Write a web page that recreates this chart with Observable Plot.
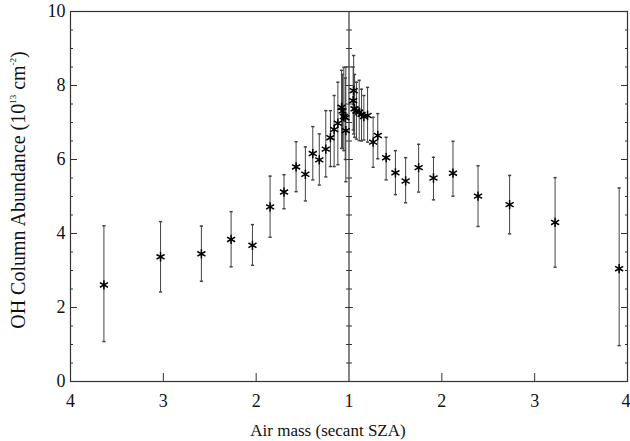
<!DOCTYPE html>
<html>
<head>
<meta charset="utf-8">
<script src="https://cdn.jsdelivr.net/npm/d3@7"></script>
<script src="https://cdn.jsdelivr.net/npm/@observablehq/plot@0.6"></script>
<style>
  html, body { margin: 0; padding: 0; background: #fff; }
  #chart { width: 630px; height: 441px; }
</style>
</head>
<body>
<div id="chart"></div>
<script>
// Morning (left half) — air mass, OH value, error-bar top, error-bar bottom
const amAM  = [3.64, 3.03, 2.59, 2.27, 2.04, 1.85, 1.70, 1.57, 1.47, 1.39, 1.32, 1.25, 1.20, 1.16, 1.12, 1.08, 1.07, 1.056, 1.04, 1.034];
const ohAM  = [2.61, 3.37, 3.45, 3.84, 3.68, 4.72, 5.12, 5.80, 5.60, 6.16, 5.99, 6.28, 6.59, 6.81, 6.98, 7.41, 7.31, 7.16, 7.13, 6.78];
const hiAM  = [4.21, 4.32, 4.20, 4.59, 4.24, 5.55, 5.59, 6.48, 6.34, 6.89, 6.69, 7.32, 7.32, 7.73, 8.09, 8.41, 8.30, 8.49, 8.20, 8.50];
const loAM  = [1.08, 2.42, 2.71, 3.10, 3.14, 3.90, 4.67, 5.13, 4.88, 5.45, 5.31, 5.53, 5.81, 5.81, 5.86, 6.30, 6.30, 6.24, 6.00, 5.40];
// Afternoon (right half)
const amPM  = [1.05, 1.045, 1.06, 1.08, 1.11, 1.135, 1.16, 1.20, 1.26, 1.31, 1.40, 1.50, 1.61, 1.75, 1.91, 2.12, 2.39, 2.73, 3.22, 3.91];
const ohPM  = [7.86, 7.59, 7.37, 7.31, 7.28, 7.22, 7.16, 7.19, 6.47, 6.65, 6.05, 5.64, 5.42, 5.78, 5.50, 5.63, 5.01, 4.78, 4.30, 3.05];
const hiPM  = [8.81, 8.50, 8.30, 8.09, 8.14, 7.90, 7.73, 7.95, 7.14, 7.24, 6.60, 6.24, 6.05, 6.41, 6.06, 6.49, 5.83, 5.57, 5.51, 5.23];
const loPM  = [6.69, 6.80, 6.60, 6.55, 6.51, 6.50, 6.53, 6.47, 5.79, 6.02, 5.45, 5.05, 4.83, 5.12, 4.91, 5.01, 4.19, 3.99, 3.09, 0.97];

const xTicks = [-3, -2, -1, 0, 1, 2, 3];          // signed (air mass - 1)
const xTickLabels = ["4", "3", "2", "1", "2", "3", "4"];
const yMajor = [0, 2, 4, 6, 8, 10];
const yMinor = d3.range(0, 10.01, 0.5);

const rows = [
  ...amAM.map((a, i) => ({x: -(a - 1), y: ohAM[i], hi: hiAM[i], lo: loAM[i]})),
  ...amPM.map((a, i) => ({x: (a - 1), y: ohPM[i], hi: hiPM[i], lo: loPM[i]}))
];

// horizontal dash symbol for caps and centre-line ticks
const hline = {draw(ctx, size) { const r = Math.sqrt(size / Math.PI); ctx.moveTo(-r, 0); ctx.lineTo(r, 0); }};

const font = "'Liberation Serif', 'Times New Roman', serif";

const chart = Plot.plot({
  width: 630, height: 441,
  marginLeft: 70, marginRight: 3, marginTop: 11, marginBottom: 60,
  x: {domain: [-3, 3]},
  y: {domain: [0, 10]},
  style: {fontFamily: font, fontSize: "18px", color: "#111", background: "#fff"},
  marks: [
    Plot.frame({stroke: "#333", strokeWidth: 1.2}),
    Plot.ruleX([0], {stroke: "#333", strokeWidth: 1.2}),
    // x tick labels
    Plot.axisX(xTicks, {tickSize: 0, tickPadding: 13, tickFormat: d => xTickLabels[xTicks.indexOf(d)], label: null, fontSize: 18, fontFamily: font}),
    // inward x ticks
    Plot.axisX(xTicks.filter(d => d !== 0 && Math.abs(d) !== 3), {tickSize: -8, text: null, label: null, stroke: "#333"}),
    // y labels + ticks left
    Plot.axisY(yMajor, {tickSize: 0, tickPadding: 5, label: null, fontSize: 18, fontFamily: font}),
    Plot.axisY(yMajor, {tickSize: -7, text: null, label: null, stroke: "#333"}),
    Plot.axisY(yMinor, {tickSize: -3, text: null, label: null, stroke: "#333"}),
    // right ticks
    Plot.axisY(yMajor, {anchor: "right", tickSize: -7, text: null, label: null, stroke: "#333"}),
    Plot.axisY(yMinor, {anchor: "right", tickSize: -3, text: null, label: null, stroke: "#333"}),
    // centre-line ticks
    Plot.dot(yMinor, {x: () => 0, y: d => d, symbol: hline, r: d => (d % 2 === 0 ? 5 : 3), stroke: "#333", fill: "none", strokeWidth: 1}),
    // error bars
    Plot.ruleX(rows, {x: "x", y1: "lo", y2: "hi", stroke: "#444", strokeWidth: 1}),
    Plot.dot(rows, {x: "x", y: "hi", symbol: hline, r: 1.6, stroke: "#444", fill: "none"}),
    Plot.dot(rows, {x: "x", y: "lo", symbol: hline, r: 1.6, stroke: "#444", fill: "none"}),
    // markers
    Plot.dot(rows, {x: "x", y: "y", symbol: "asterisk", r: 4.4, stroke: "#000", strokeWidth: 1.5})
  ]
});

document.getElementById("chart").appendChild(chart);

const svg = d3.select(chart);
svg.selectAll("text").style("font-family", font);
// keep the last x tick label inside the picture
svg.selectAll("g[aria-label='x-axis tick label'] text")
  .filter(function () { return this.textContent === "4"; })
  .each(function (d, i, nodes) { if (i === nodes.length - 1) d3.select(this).attr("text-anchor", "end").attr("dx", 3); });
// x title
svg.append("text")
  .attr("x", 328).attr("y", 436)
  .attr("text-anchor", "middle")
  .style("font-family", font).attr("font-size", 17).attr("fill", "#111")
  .text("Air mass (secant SZA)");
// y title with superscripts
const yt = svg.append("text")
  .attr("transform", "translate(25,190) rotate(-90)")
  .attr("text-anchor", "middle")
  .style("font-family", font).attr("font-size", 20).attr("fill", "#111");
yt.append("tspan").text("OH Column Abundance (10");
yt.append("tspan").attr("font-size", 9).attr("dy", -9).text("13");
yt.append("tspan").attr("dy", 9).text(" cm");
yt.append("tspan").attr("font-size", 9).attr("dy", -9).text("-2");
yt.append("tspan").attr("dy", 9).text(")");
</script>
</body>
</html>
